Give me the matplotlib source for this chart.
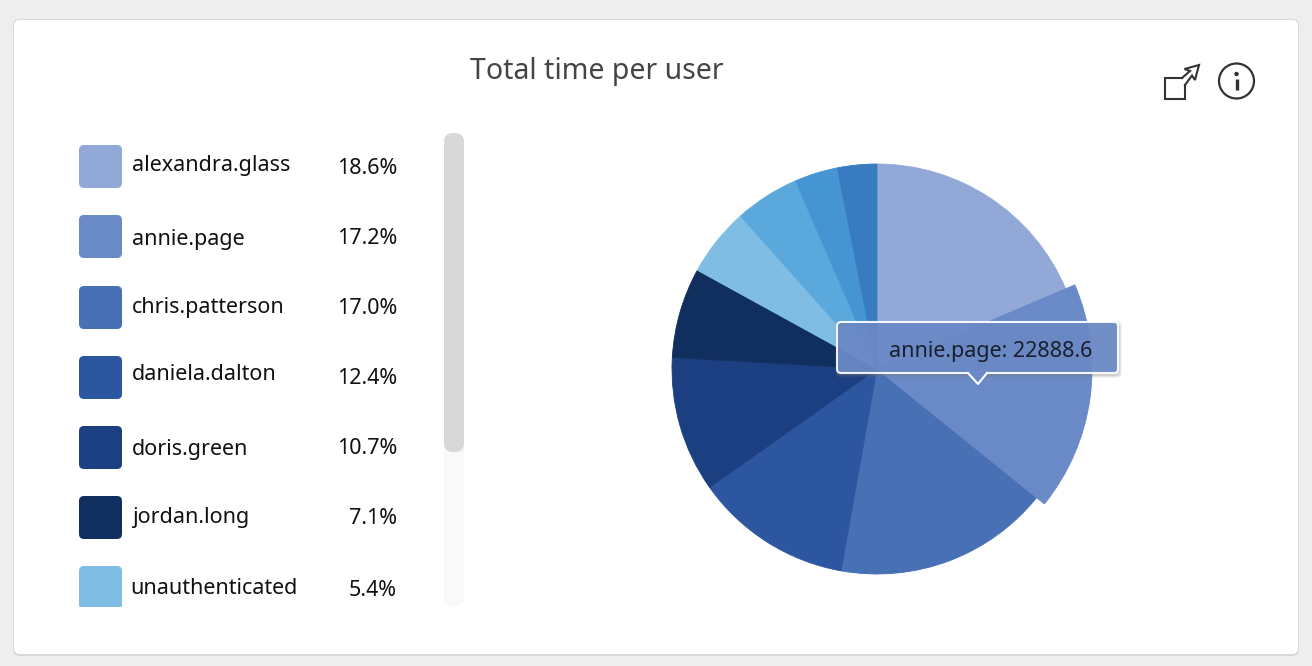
import matplotlib
matplotlib.use('Agg')
import matplotlib.pyplot as plt
from matplotlib.patches import FancyBboxPatch, Polygon, Rectangle, Circle

users = ['alexandra.glass', 'annie.page', 'chris.patterson', 'daniela.dalton',
         'doris.green', 'jordan.long', 'unauthenticated']
shares = [18.6, 17.2, 17.0, 12.4, 10.7, 7.1, 5.4]
# three more slices sit below the fold of the legend, no names visible
hidden_shares = [5.1, 3.4, 3.1]
colors = ['#92A9D8', '#6A89C7', '#4870B5', '#2C56A0', '#1B3F80', '#102E5E',
          '#7FBDE4', '#5BA9DC', '#4495D2', '#387BC0']
label_y = [166, 240, 307, 375, 449, 518, 588]
label_x = [132, 132, 132, 132, 132, 132, 130]
pct_y = [169, 239, 309, 379, 449, 519, 590]
swatch_y = [145, 215, 286, 356, 426, 496, 566]

plt.rcParams['font.family'] = ['Noto Sans', 'DejaVu Sans']

W, H = 1312, 666
fig = plt.figure(figsize=(W / 100, H / 100), dpi=100, facecolor='#EEEEEE')
ax = fig.add_axes([0, 0, 1, 1])
ax.set_xlim(0, W)
ax.set_ylim(H, 0)
ax.axis('off')


def rounded(x0, y0, x1, y1, r, **kw):
    p = FancyBboxPatch((x0 + r, y0 + r), x1 - x0 - 2 * r, y1 - y0 - 2 * r,
                       boxstyle=f'round,pad={r},rounding_size={r}', **kw)
    ax.add_patch(p)
    return p


# card
rounded(13, 19, 1299, 656, 7, fc='#D9D9D9', ec='none', zorder=1)
rounded(14, 20, 1298, 654, 6, fc='white', ec='none', zorder=2)

ax.text(597, 71, 'Total time per user', fontsize=20.5, color='#444444',
        ha='center', va='center', zorder=3)

# pie, y axis is inverted so clockwise on screen is counterclock here
wedges, _ = ax.pie(shares + hidden_shares, colors=colors, startangle=-90,
                   counterclock=True, radius=205, center=(877, 369),
                   frame=True, wedgeprops={'zorder': 3})
for w, c in zip(wedges, colors):
    w.set_edgecolor(c)
    w.set_linewidth(0.6)
wedges[1].set_radius(215)
wedges[1].set_zorder(4)
ax.set_xlim(0, W)
ax.set_ylim(H, 0)
ax.set_aspect('auto')
ax.axis('off')

# legend, clipped at the bottom of the scroll area
clip = Rectangle((60, 130), 400, 477, transform=ax.transData)
for i, user in enumerate(users):
    s = rounded(79, swatch_y[i], 122, swatch_y[i] + 43, 5, fc=colors[i], ec='none', zorder=3)
    s.set_clip_path(clip)
    ax.text(label_x[i], label_y[i], user, fontsize=15.5, color='#111111',
            va='center', zorder=3)
    ax.text(397, pct_y[i], f'{shares[i]:.1f}%', fontsize=15.5, color='#111111',
            ha='right', va='center', zorder=3)

# scrollbar
rounded(444, 133, 464, 606, 9, fc='#F9F9F9', ec='none', zorder=3)
rounded(444, 133, 464, 452, 9, fc='#D8D8D8', ec='none', zorder=3)

# tooltip
for grow, alpha in [(3, 0.08), (2, 0.12), (1, 0.18)]:
    rounded(837 - grow + 1, 322 - grow + 2, 1118 + grow + 1, 373 + grow + 2, 5,
            fc='#777777', ec='none', alpha=alpha, zorder=5)
rounded(837, 322, 1118, 373, 4, fc='#6A89C7', ec='white', lw=1.5, alpha=0.92, zorder=6)
ax.add_patch(Polygon([(968, 372), (978, 384), (987, 372)], closed=True, fc='#6A89C7',
                     ec='none', zorder=7))
ax.plot([968, 978, 987], [373, 384, 373], color='white', lw=1.5, zorder=7)
ax.text(889, 351, 'annie.page: 22888.6', fontsize=15.5, color='#1A1F2E',
        va='center', zorder=8)

# export icon
icon = dict(color='#333333', lw=1.5, zorder=3, solid_joinstyle='miter')
ax.plot([1182, 1164.5, 1164.5, 1185, 1185], [78, 78, 99, 99, 85], **icon)
ax.plot([1182, 1190, 1184.5, 1199, 1195, 1192, 1185],
        [78, 71, 69, 65, 80, 75.5, 85], **icon)

# info icon
ax.add_patch(Circle((1236.5, 81), 17.5, fc='none', ec='#333333', lw=1.6, zorder=3))
ax.add_patch(Circle((1236.5, 74), 2.2, fc='#333333', ec='none', zorder=3))
ax.plot([1236.5, 1236.5], [79, 90], color='#333333', lw=2.4, zorder=3, solid_capstyle='butt')

fig.savefig('out.png', dpi=100, facecolor=fig.get_facecolor())
